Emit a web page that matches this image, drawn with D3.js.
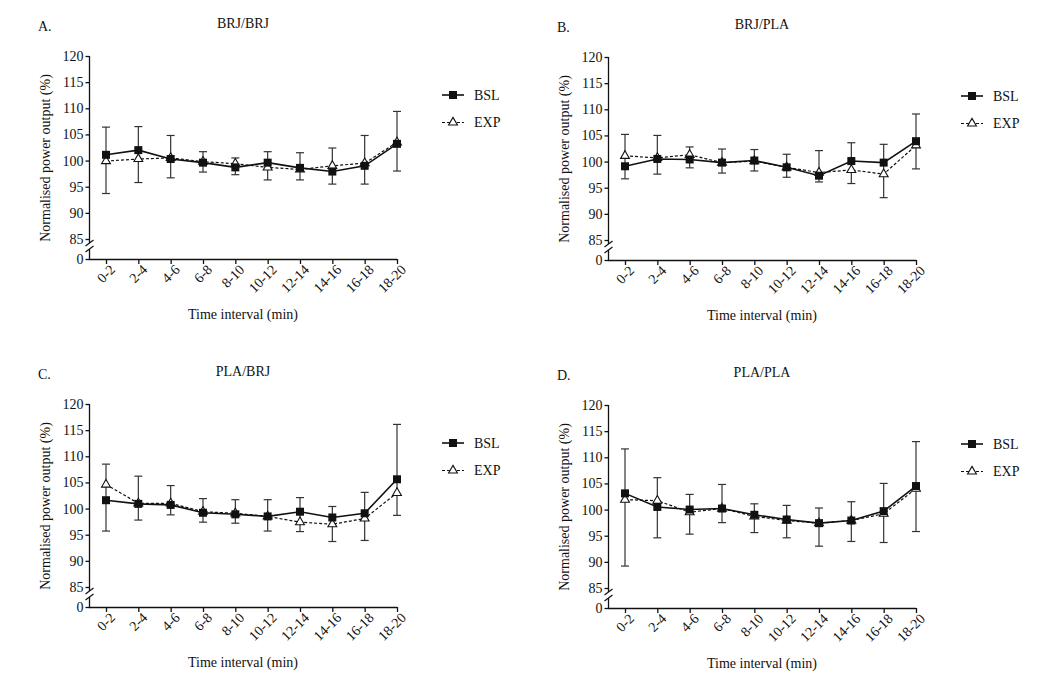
<!DOCTYPE html>
<html>
<head>
<meta charset="utf-8">
<script src="https://cdn.jsdelivr.net/npm/d3@7"></script>
<style>
  body { margin: 0; background: #fff; }
  text { font-family: "Liberation Serif", "DejaVu Serif", serif; fill: #111; }
</style>
</head>
<body>
<div id="container"></div>
<script>
const intervals = ['0-2', '2-4', '4-6', '6-8', '8-10', '10-12', '12-14', '14-16', '16-18', '18-20'];
const yTicks = [0, 85, 90, 95, 100, 105, 110, 115, 120];
const letters = ['A.', 'B.', 'C.', 'D.'];
const titles = ['BRJ/BRJ', 'BRJ/PLA', 'PLA/BRJ', 'PLA/PLA'];
const seriesNames = ['BSL', 'EXP'];

// BRJ/BRJ
const bslA = [101.1, 102.0, 100.3, 99.6, 98.7, 99.6, 98.6, 97.9, 99.0, 103.2];
const expA = [99.9, 100.3, 100.5, 99.8, 99.4, 98.7, 98.3, 99.0, 99.5, 103.5];
const hiA = [106.4, 106.5, 104.8, 101.7, 100.5, 101.7, 101.5, 102.4, 104.8, 109.4];
const loA = [93.7, 95.8, 96.7, 97.8, 97.3, 96.3, 96.3, 95.5, 95.5, 98.0];
// BRJ/PLA
const bslB = [99.1, 100.5, 100.4, 99.8, 100.2, 98.9, 97.3, 100.1, 99.8, 103.9];
const expB = [101.1, 100.7, 101.3, 99.8, 100.1, 98.9, 97.9, 98.4, 97.6, 103.1];
const hiB = [105.2, 105.0, 102.8, 102.4, 102.3, 101.4, 102.1, 103.6, 103.3, 109.1];
const loB = [96.7, 97.6, 98.8, 97.8, 98.2, 97.0, 96.1, 95.8, 93.1, 98.6];
// PLA/BRJ
const bslC = [101.6, 100.9, 100.7, 99.2, 98.9, 98.5, 99.4, 98.3, 99.1, 105.6];
const expC = [104.6, 101.0, 101.0, 99.4, 99.1, 98.5, 97.4, 97.0, 98.1, 103.0];
const hiC = [108.5, 106.2, 104.4, 101.9, 101.7, 101.7, 102.1, 100.4, 103.1, 116.1];
const loC = [95.7, 97.8, 98.8, 97.4, 97.2, 95.7, 95.6, 93.7, 93.9, 98.7];
// PLA/PLA
const bslD = [103.1, 100.5, 100.0, 100.2, 99.0, 98.1, 97.4, 97.9, 99.7, 104.5];
const expD = [101.9, 101.7, 99.5, 100.2, 98.7, 97.9, 97.4, 97.9, 99.2, 104.0];
const hiD = [111.6, 106.1, 102.9, 104.8, 101.1, 100.8, 100.3, 101.5, 105.0, 113.0];
const loD = [89.2, 94.6, 95.3, 97.5, 95.6, 94.6, 93.0, 93.9, 93.7, 95.8];

const panelData = [
  [bslA, expA, hiA, loA],
  [bslB, expB, hiB, loB],
  [bslC, expC, hiC, loC],
  [bslD, expD, hiD, loD],
];
const offsets = [[0, 0], [519, 1], [0, 348], [519, 349]];

const w = 1040;
const h = 694;
const axisX = 89.5;

const svg = d3.select('#container')
  .append('svg')
  .attr('width', w)
  .attr('height', h);

// broken axis: 0 sits just under 85
const yScale = d3.scaleLinear()
  .domain([0, 85, 120])
  .range([259, 239, 56]);

const xScale = d3.scalePoint()
  .domain(intervals)
  .range([106, 397]);

panelData.forEach((p, k) => {
  const [bsl, exp, hi, lo] = p;
  const g = svg.append('g')
    .attr('transform', `translate(${offsets[k][0]},${offsets[k][1]})`);

  g.append('text').attr('x', 38).attr('y', 31)
    .style('font-size', '14px').text(letters[k]);
  g.append('text').attr('x', 243).attr('y', 28)
    .attr('text-anchor', 'middle').style('font-size', '14px').text(titles[k]);

  // y axis, drawn in two pieces around the break
  const yAxis = d3.axisLeft(yScale).tickValues(yTicks).tickSize(4).tickPadding(2);
  const ya = g.append('g').attr('transform', `translate(${axisX},0)`).call(yAxis);
  ya.select('.domain').remove();
  ya.selectAll('line').attr('stroke', '#111').attr('stroke-width', 1.3);
  ya.selectAll('text').style('font-size', '14px').style('font-family', '"Liberation Serif", serif');
  g.append('line').attr('x1', axisX).attr('x2', axisX)
    .attr('y1', yScale(120)).attr('y2', 243)
    .attr('stroke', '#111').attr('stroke-width', 1.3);
  g.append('line').attr('x1', axisX).attr('x2', axisX)
    .attr('y1', 249).attr('y2', yScale(0))
    .attr('stroke', '#111').attr('stroke-width', 1.3);
  [243, 249].forEach(by => {
    g.append('line')
      .attr('x1', axisX - 4).attr('y1', by + 3)
      .attr('x2', axisX + 4).attr('y2', by - 3)
      .attr('stroke', '#111').attr('stroke-width', 1.2);
  });

  g.append('text')
    .attr('transform', `translate(50,158) rotate(-90)`)
    .attr('text-anchor', 'middle').style('font-size', '14px')
    .text('Normalised power output (%)');

  // x axis
  const xAxis = d3.axisBottom(xScale).tickSize(5).tickSizeOuter(0);
  const xa = g.append('g').attr('transform', `translate(0,${yScale(0)})`).call(xAxis);
  xa.select('.domain').attr('d', `M${axisX - 0.5},0.5H${xScale('18-20')}`)
    .attr('stroke', '#111').attr('stroke-width', 1.3);
  xa.selectAll('line').attr('stroke', '#111').attr('stroke-width', 1.3);
  xa.selectAll('text')
    .style('font-size', '14px').style('font-family', '"Liberation Serif", serif')
    .attr('text-anchor', 'end')
    .attr('transform', 'translate(6,8) rotate(-45)')
    .attr('y', 0).attr('dy', '0.35em');

  g.append('text').attr('x', 243).attr('y', 319)
    .attr('text-anchor', 'middle').style('font-size', '14px')
    .text('Time interval (min)');

  // error bars
  const eb = g.append('g').attr('stroke', '#333').attr('stroke-width', 1.2);
  intervals.forEach((iv, i) => {
    const x = xScale(iv);
    eb.append('line').attr('x1', x).attr('x2', x).attr('y1', yScale(hi[i])).attr('y2', yScale(lo[i]));
    eb.append('line').attr('x1', x - 4).attr('x2', x + 4).attr('y1', yScale(hi[i])).attr('y2', yScale(hi[i]));
    eb.append('line').attr('x1', x - 4).attr('x2', x + 4).attr('y1', yScale(lo[i])).attr('y2', yScale(lo[i]));
  });

  const line = d3.line().x((d, i) => xScale(intervals[i])).y(d => yScale(d));

  g.append('path').datum(exp).attr('d', line)
    .attr('fill', 'none').attr('stroke', '#111').attr('stroke-width', 1.2)
    .attr('stroke-dasharray', '3,2');
  g.append('path').datum(bsl).attr('d', line)
    .attr('fill', 'none').attr('stroke', '#111').attr('stroke-width', 1.6);

  const tri = d3.symbol().type(d3.symbolTriangle).size(34);
  g.selectAll('.exp').data(exp).enter().append('path')
    .attr('class', 'exp')
    .attr('d', tri)
    .attr('transform', (d, i) => `translate(${xScale(intervals[i])},${yScale(d)})`)
    .attr('fill', '#fff').attr('stroke', '#111').attr('stroke-width', 1.1);
  g.selectAll('.bsl').data(bsl).enter().append('rect')
    .attr('class', 'bsl')
    .attr('x', (d, i) => xScale(intervals[i]) - 4)
    .attr('y', d => yScale(d) - 4)
    .attr('width', 8).attr('height', 8)
    .attr('fill', '#111');

  // legend
  const lg = g.selectAll('.legend').data(seriesNames).enter().append('g')
    .attr('class', 'legend')
    .attr('transform', (d, i) => `translate(0,${95 + i * 27.5})`);
  lg.append('line').attr('x1', 442).attr('x2', 464).attr('y1', 0).attr('y2', 0)
    .attr('stroke', '#111')
    .attr('stroke-width', (d, i) => (i === 0 ? 1.6 : 1.2))
    .attr('stroke-dasharray', (d, i) => (i === 0 ? null : '3,2'));
  lg.filter((d, i) => i === 0).append('rect')
    .attr('x', 449).attr('y', -4).attr('width', 8).attr('height', 8).attr('fill', '#111');
  lg.filter((d, i) => i === 1).append('path')
    .attr('d', tri).attr('transform', 'translate(453,0)')
    .attr('fill', '#fff').attr('stroke', '#111').attr('stroke-width', 1.1);
  lg.append('text').attr('x', 474).attr('y', 0).attr('dy', '0.35em')
    .style('font-size', '14px').text(d => d);
});
</script>
</body>
</html>
